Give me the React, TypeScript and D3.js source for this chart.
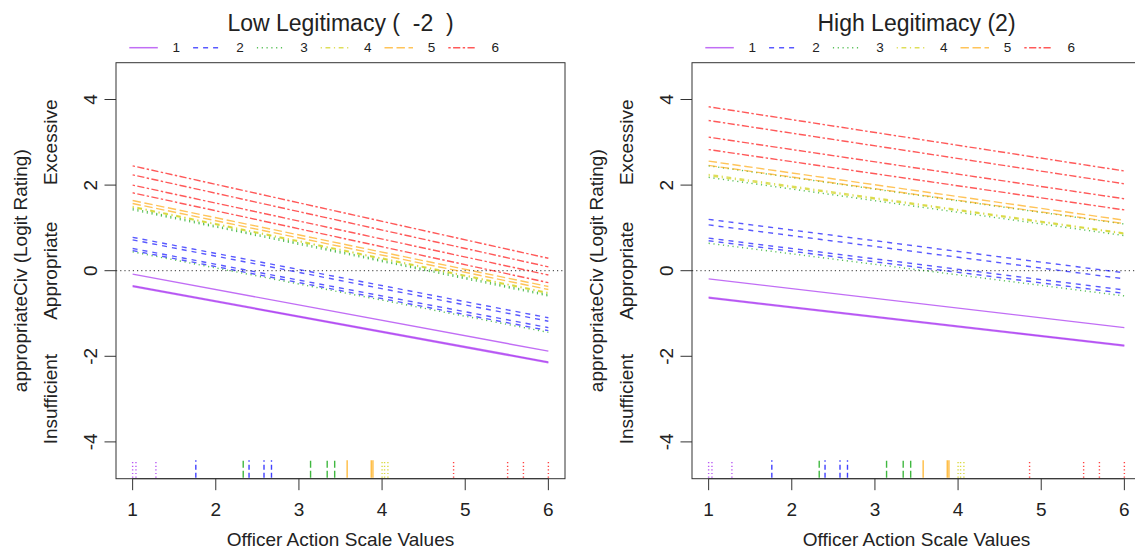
import React from "react";
import * as d3 from "d3";

// ---------- data ----------
const groups = ["1", "2", "3", "4", "5", "6"];
const groupColors = ["#a020f0", "#0000ff", "#00a000", "#cdcd00", "#ffa500", "#ff0000"];
const groupDash = ["", "5,5", "1.2,3.6", "1.2,3.6,4.8,3.6", "8.4,3.6", "2.4,2.4,7.2,2.4"];
const rugDash = ["1.2,2.4", "5,3", "7,3", "1.2,2.4", "", "1.2,2.4"];

const xTicks = [1, 2, 3, 4, 5, 6];
const yTicks = [-4, -2, 0, 2, 4];
const ratingLabels = ["Insufficient", "Appropriate", "Excessive"];
const ratingAt = [-3, 0, 3];

const panelTitles = ["Low Legitimacy (  -2  )", "High Legitimacy (2)"];

// Low legitimacy panel: predicted value at x=1 and x=6 per line
const lowLineGroup = [0, 0, 0, 1, 1, 1, 1, 2, 2, 2, 3, 3, 4, 4, 5, 5, 5, 5];
const lowAt1 = [-0.08, -0.35, -0.37, 0.78, 0.72, 0.52, 0.47, 0.44, 1.42, 1.45, 1.48, 1.5, 1.64, 1.57, 2.45, 2.24, 2.0, 1.82];
const lowAt6 = [-1.88, -2.13, -2.15, -1.1, -1.18, -1.33, -1.4, -1.44, -0.59, -0.56, -0.53, -0.51, -0.37, -0.44, 0.29, 0.09, -0.1, -0.28];

// High legitimacy panel
const highLineGroup = [0, 0, 0, 1, 1, 1, 1, 2, 2, 2, 3, 3, 4, 4, 5, 5, 5, 5];
const highAt1 = [-0.19, -0.64, -0.62, 1.2, 1.07, 0.76, 0.7, 0.64, 2.18, 2.45, 2.22, 2.25, 2.56, 2.46, 3.83, 3.51, 3.12, 2.83];
const highAt6 = [-1.33, -1.76, -1.74, -0.05, -0.19, -0.45, -0.53, -0.59, 0.82, 1.09, 0.86, 0.88, 1.18, 1.1, 2.33, 2.03, 1.68, 1.42];

// rug (observed officer action values)
const rugGroup = [0, 0, 0, 1, 1, 1, 1, 2, 2, 2, 2, 4, 4, 4, 3, 3, 3, 5, 5, 5, 5];
const rugX = [1.0, 1.04, 1.28, 1.76, 2.4, 2.58, 2.67, 2.33, 3.14, 3.34, 3.43, 3.58, 3.87, 3.89, 4.0, 4.03, 4.07, 4.86, 5.51, 5.7, 6.0];

const xDomain = [1, 6];
const yDomain = [-4.5, 4.5];

// ---------- layout ----------
const W = 1135;
const H = 552;
const FONT = "'Liberation Sans', Arial, Helvetica, sans-serif";
const TEXT = "#222";
const AXIS = "#333";
const ALPHA = 0.65;

function Panel({ offset, title, lineGroup, at1, at6 }) {
  const left = 116 + offset;
  const right = 565 + offset;
  const top = 62.7;
  const bottom = 478.7;
  const ext = (d) => {
    const r = (d[1] - d[0]) * 0.04;
    return [d[0] - r, d[1] + r];
  };
  const x = d3.scaleLinear().domain(ext(xDomain)).range([left, right]);
  const y = d3.scaleLinear().domain(ext(yDomain)).range([bottom, top]);
  const line = d3
    .line<[number, number]>()
    .x((d) => x(d[0]))
    .y((d) => y(d[1]));
  const cx = (left + right) / 2;
  const cy = y(0);
  const legendStart = 129.3 + offset;
  const legendStep = 63.8;

  return (
    <g>
      <text x={cx} y={31} textAnchor="middle" fontSize={23} fill={TEXT} style={{ whiteSpace: "pre" }}>
        {title}
      </text>
      {groups.map((g, i) => {
        const lx = legendStart + i * legendStep;
        return (
          <g key={g}>
            <line
              x1={lx}
              x2={lx + 28.5}
              y1={47.7}
              y2={47.7}
              stroke={groupColors[i]}
              strokeOpacity={ALPHA}
              strokeWidth={1.5}
              strokeDasharray={groupDash[i]}
            />
            <text x={lx + 47} y={47.7} dy="0.35em" textAnchor="middle" fontSize={13.5} fill={TEXT}>
              {g}
            </text>
          </g>
        );
      })}
      {/* zero reference line */}
      <line x1={left} x2={right} y1={y(0)} y2={y(0)} stroke="#333" strokeWidth={1} strokeDasharray="1.2,3" />
      {/* fitted lines */}
      {at1.map((v, i) => (
        <path
          key={"l" + i}
          d={line([
            [1, v],
            [6, at6[i]],
          ])}
          fill="none"
          stroke={groupColors[lineGroup[i]]}
          strokeOpacity={ALPHA}
          strokeWidth={1.4}
          strokeDasharray={groupDash[lineGroup[i]]}
        />
      ))}
      {/* rug */}
      {rugX.map((v, i) => (
        <line
          key={"r" + i}
          x1={x(v)}
          x2={x(v)}
          y1={bottom - 1}
          y2={bottom - 18.5}
          stroke={groupColors[rugGroup[i]]}
          strokeOpacity={0.75}
          strokeWidth={1.4}
          strokeDasharray={rugDash[rugGroup[i]]}
        />
      ))}
      {/* box */}
      <rect x={left} y={top} width={right - left} height={bottom - top} fill="none" stroke={AXIS} strokeWidth={1} />
      {/* x axis */}
      <line x1={x(1)} x2={x(6)} y1={bottom} y2={bottom} stroke={AXIS} />
      {xTicks.map((t) => (
        <g key={"xt" + t}>
          <line x1={x(t)} x2={x(t)} y1={bottom} y2={bottom + 11.5} stroke={AXIS} />
          <text x={x(t)} y={516} textAnchor="middle" fontSize={19} fill={TEXT}>
            {t}
          </text>
        </g>
      ))}
      <text x={cx} y={546} textAnchor="middle" fontSize={19} fill={TEXT}>
        Officer Action Scale Values
      </text>
      {/* y axis */}
      {yTicks.map((t) => (
        <g key={"yt" + t}>
          <line x1={left - 11.5} x2={left} y1={y(t)} y2={y(t)} stroke={AXIS} />
          <text
            transform={`translate(${96.5 + offset},${y(t)}) rotate(-90)`}
            textAnchor="middle"
            fontSize={19}
            fill={TEXT}
          >
            {t}
          </text>
        </g>
      ))}
      {ratingLabels.map((lab, i) => (
        <text
          key={lab}
          transform={`translate(${56.5 + offset},${y(ratingAt[i])}) rotate(-90)`}
          textAnchor="middle"
          fontSize={19}
          fill={TEXT}
        >
          {lab}
        </text>
      ))}
      <text
        transform={`translate(${26.5 + offset},${cy}) rotate(-90)`}
        textAnchor="middle"
        fontSize={19}
        fill={TEXT}
      >
        appropriateCiv (Logit Rating)
      </text>
    </g>
  );
}

export default function App() {
  return (
    <svg
      width={W}
      height={H}
      style={{ position: "absolute", left: 0, top: 0, background: "#fff", fontFamily: FONT }}
    >
      <rect x={0} y={0} width={W} height={H} fill="#fff" />
      <Panel offset={0} title={panelTitles[0]} lineGroup={lowLineGroup} at1={lowAt1} at6={lowAt6} />
      <Panel offset={576} title={panelTitles[1]} lineGroup={highLineGroup} at1={highAt1} at6={highAt6} />
    </svg>
  );
}
